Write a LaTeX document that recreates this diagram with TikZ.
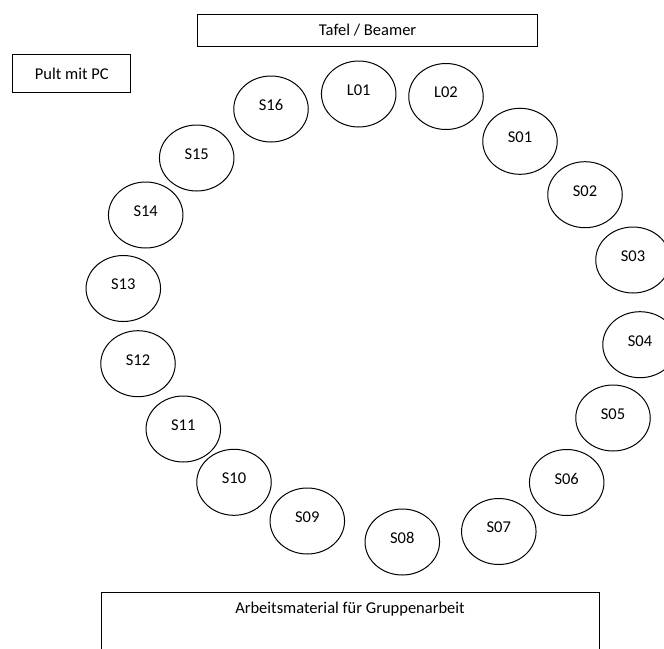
\documentclass[tikz,border=0pt]{standalone}
\usepackage{fontspec}
\setmainfont{Carlito}
\usetikzlibrary{shapes}

\begin{document}
\begin{tikzpicture}[x=1pt,y=-1pt,
  seat/.style={draw,ellipse,line width=1pt,minimum width=74.5pt,minimum height=66pt,inner sep=0pt,text depth=8pt,font=\fontsize{16.5}{20}\selectfont},
  board/.style={draw,rectangle,line width=1pt,inner sep=0pt,font=\fontsize{16.5}{20}\selectfont}]
\useasboundingbox (0,0) rectangle (664,648);
% Tafel, Pult und Material
\node(Tafel) [board,minimum width=340pt,minimum height=32pt] at (367.6,30) {Tafel / Beamer};
\node(Pult) [board,minimum width=118pt,minimum height=38.5pt] at (71.8,73.4) {Pult mit PC};
\node(Material) [board,minimum width=498pt,minimum height=120pt,anchor=north] at (350,591.7) {};
\node(MaterialText) [anchor=base,font=\fontsize{16.5}{20}\selectfont] at ([yshift=-22pt]Material.north) {Arbeitsmaterial für Gruppenarbeit};
% Sitzkreis
\node(L01) [seat] at (358.7,94) {L01};
\node(L02) [seat] at (446,96.5) {L02};
\node(S01) [seat] at (520,141.3) {S01};
\node(S02) [seat] at (585,194.7) {S02};
\node(S03) [seat] at (633,260) {S03};
\node(S04) [seat] at (640,344.7) {S04};
\node(S05) [seat] at (613,418) {S05};
\node(S06) [seat] at (566.7,482.5) {S06};
\node(S07) [seat] at (498.8,531.5) {S07};
\node(S08) [seat] at (402.3,542) {S08};
\node(S09) [seat] at (307.3,521) {S09};
\node(S10) [seat] at (234,482.3) {S10};
\node(S11) [seat] at (183.3,429) {S11};
\node(S12) [seat] at (138,363.7) {S12};
\node(S13) [seat] at (123.3,288.5) {S13};
\node(S14) [seat] at (145.7,215) {S14};
\node(S15) [seat] at (196.7,158) {S15};
\node(S16) [seat] at (271,109) {S16};
\end{tikzpicture}
\end{document}
